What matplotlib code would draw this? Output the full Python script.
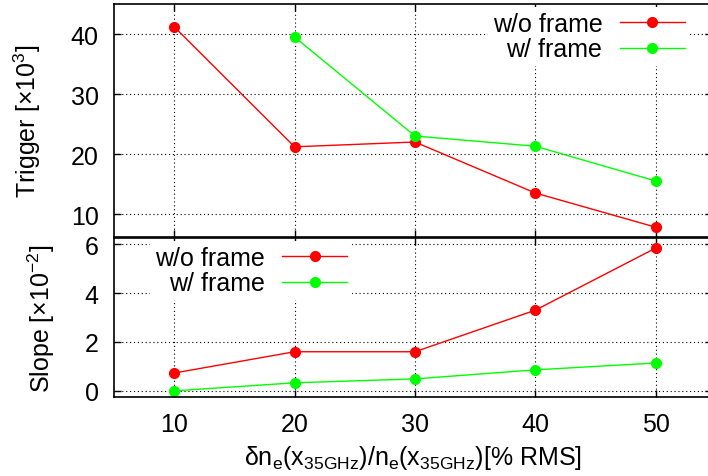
import matplotlib.pyplot as plt

plt.rcParams['font.family'] = ['Liberation Sans', 'DejaVu Sans']
plt.rcParams['mathtext.fontset'] = 'custom'
plt.rcParams['mathtext.rm'] = 'Liberation Sans'
plt.rcParams['mathtext.it'] = 'Liberation Sans'
plt.rcParams['font.size'] = 18

# data
rms = [10, 20, 30, 40, 50]
rms_frame = [20, 30, 40, 50]
trig_noframe = [41.2, 21.2, 22.0, 13.5, 7.8]
trig_frame = [39.5, 23.0, 21.3, 15.5]
slope_noframe = [0.73, 1.6, 1.6, 3.3, 5.84]
slope_frame = [0.0, 0.33, 0.49, 0.86, 1.14]
xticks = [10, 20, 30, 40, 50]

W, H = 708, 477
fig = plt.figure(figsize=(W / 100, H / 100), dpi=100)

def px(l, t, r, b):
    return [l / W, 1 - b / H, (r - l) / W, (b - t) / H]

ax1 = fig.add_axes(px(114, 5, 712, 238))
ax2 = fig.add_axes(px(114, 239, 712, 398))

red = '#ff0000'
green = '#00ff00'

for ax in (ax1, ax2):
    ax.set_xlim(5, 54.67)
    ax.set_xticks(xticks)
    ax.grid(True, color='black', linestyle=(0, (1, 2.5)), linewidth=0.8)
    ax.tick_params(direction='in', top=True, right=True, length=5, width=1,
                   labelsize=18, pad=11)
    for s in ax.spines.values():
        s.set_linewidth(1.2)

legkw = dict(markerfirst=False, frameon=True, edgecolor='none', facecolor='white',
             framealpha=1, fancybox=False, handlelength=2.6, handletextpad=0.7,
             labelspacing=0.05, borderpad=0.2, borderaxespad=0, fontsize=18)

ax1.plot(rms, trig_noframe, '-o', color=red, lw=1, ms=7, label='w/o frame')
ax1.plot(rms_frame, trig_frame, '-o', color=green, lw=1, ms=7, label='w/ frame')
ax1.set_ylim(6.17, 45)
ax1.set_yticks([10, 20, 30, 40])
ax1.tick_params(labelbottom=False)
ax1.set_ylabel('Trigger [\u00d710$^{3}$]', fontsize=18, labelpad=20)
ax1.legend(loc='upper right', bbox_to_anchor=(0.963, 0.987), **legkw)

ax2.plot(rms, slope_noframe, '-o', color=red, lw=1, ms=7, label='w/o frame')
ax2.plot(rms, slope_frame, '-o', color=green, lw=1, ms=7, label='w/ frame')
ax2.set_ylim(-0.25, 6.25)
ax2.set_yticks([0, 2, 4, 6])
ax2.set_ylabel('Slope [\u00d710$^{-2}$]', fontsize=18, labelpad=20)
ax2.set_xlabel(r'$\mathregular{\delta n_e(x_{35GHz})/n_e(x_{35GHz})[\%\ RMS]}$',
               fontsize=18, labelpad=5)
ax2.legend(loc='upper left', bbox_to_anchor=(0.060, 0.981), **legkw)

fig.savefig('out.png', dpi=100)
